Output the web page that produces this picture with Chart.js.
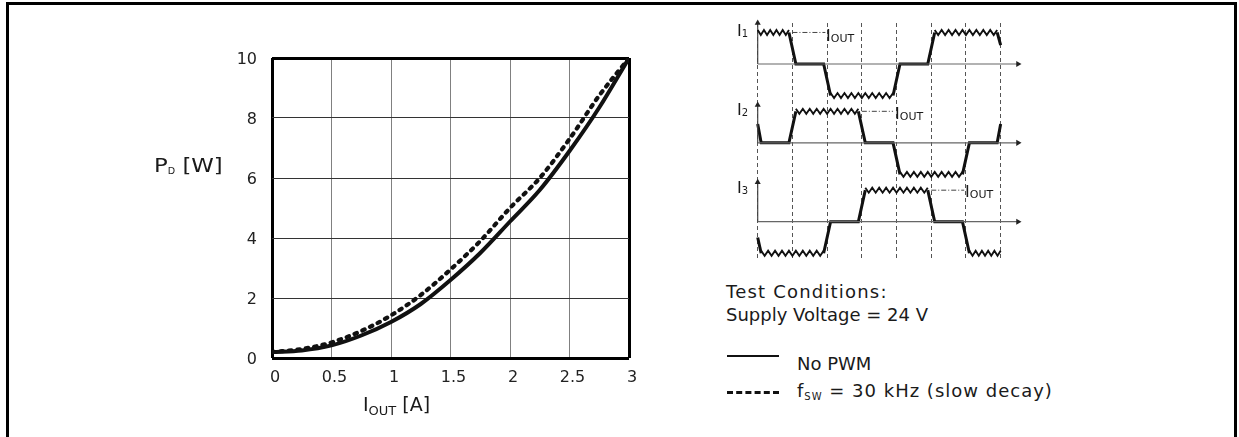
<!DOCTYPE html>
<html>
<head>
<meta charset="utf-8">
<script src="https://cdn.jsdelivr.net/npm/chart.js@4/dist/chart.umd.min.js"></script>
<style>
  html,body{margin:0;padding:0;background:#fff;}
  body{width:1239px;height:437px;position:relative;overflow:hidden;font-family:"DejaVu Sans",sans-serif;color:#1a1a1a;}
  .frame{position:absolute;left:6px;top:2px;width:1231px;height:520px;border:3px solid #000;box-sizing:border-box;}
  canvas{position:absolute;}
  .t{position:absolute;white-space:nowrap;line-height:1;transform-origin:0 50%;}
  .t sub{vertical-align:baseline;position:relative;}
  .sample{position:absolute;left:727px;width:52px;height:0;}
</style>
</head>
<body>
<div class="frame"></div>
<canvas id="pd" width="700" height="437" style="left:0;top:0"></canvas>
<canvas id="wave" width="340" height="270" style="left:700px;top:0"></canvas>

<div class="t" style="left:154px;top:156px;font-size:19px;transform:scaleX(1.2)">P<sub style="font-size:8px;top:2px">D</sub> [W]</div>
<div class="t" style="left:363px;top:395px;font-size:19px">I<sub style="font-size:13px;top:4px">OUT</sub> [A]</div>

<div class="t" style="left:737px;top:23px;font-size:16px">I<sub style="font-size:10px;top:1px">1</sub></div>
<div class="t" style="left:737px;top:102px;font-size:16px">I<sub style="font-size:10px;top:1px">2</sub></div>
<div class="t" style="left:737px;top:180px;font-size:16px">I<sub style="font-size:10px;top:1px">3</sub></div>
<div class="t" style="left:826px;top:28px;font-size:16px">I<sub style="font-size:11px;top:1px">OUT</sub></div>
<div class="t" style="left:895px;top:106px;font-size:16px">I<sub style="font-size:11px;top:1px">OUT</sub></div>
<div class="t" style="left:965px;top:184px;font-size:16px">I<sub style="font-size:11px;top:1px">OUT</sub></div>

<div class="t" style="left:726px;top:283px;font-size:18px;letter-spacing:1.2px">Test Conditions:</div>
<div class="t" style="left:726px;top:306px;font-size:18px">Supply Voltage = 24 V</div>
<div class="sample" style="top:355px;border-top:2px solid #111"></div>
<div class="t" style="left:797px;top:355px;font-size:18px">No PWM</div>
<div class="sample" style="top:391px;border-top:3px dashed #111"></div>
<div class="t" style="left:797px;top:382px;font-size:18px;letter-spacing:1px">f<sub style="font-size:10px;top:3px">SW</sub> = 30 kHz (slow decay)</div>

<script>
// --- power dissipation curves
const iOut = [0, 0.25, 0.5, 0.75, 1, 1.25, 1.5, 1.75, 2, 2.25, 2.5, 2.75, 3];
const pdNoPwm = [0.2, 0.25, 0.42, 0.75, 1.2, 1.8, 2.6, 3.5, 4.55, 5.6, 6.9, 8.35, 10];
const pdPwm30k = [0.2, 0.3, 0.52, 0.9, 1.42, 2.1, 2.95, 3.9, 5.0, 6.0, 7.3, 8.75, 10];
const xTicks = [0, 0.5, 1, 1.5, 2, 2.5, 3];
const yTicks = [0, 2, 4, 6, 8, 10];

// --- phase current waveforms (time in grid units, level -1..1)
const gridT = [0, 1, 2, 3, 4, 5, 6, 7];
const baselines = [5, 2.5, 0];
const axisTops = [6.3, 3.7, 1.25];
const i1T = [0, 0.9, 1.1, 1.9, 2.1, 3.9, 4.1, 4.9, 5.1, 6.9, 7.0];
const i1L = [1, 1, 0, 0, -1, -1, 0, 0, 1, 1, 0.6];
const i2T = [0, 0.1, 0.9, 1.1, 2.9, 3.1, 3.9, 4.1, 5.9, 6.1, 6.9, 7.0];
const i2L = [0.6, 0, 0, 1, 1, 0, 0, -1, -1, 0, 0, 0.6];
const i3T = [0, 0.1, 1.9, 2.1, 2.9, 3.1, 4.9, 5.1, 5.9, 6.1, 7.0];
const i3L = [-0.5, -1, -1, 0, 0, 1, 1, 0, 0, -1, -1];
const refStart = [1.0, 3.0, 5.0];
const refEnd = [1.95, 3.9, 5.95];

const $ = (id) => document.getElementById(id);
const pts = (xs, ys) => xs.map((x, i) => ({x, y: ys[i]}));
const edge = (c, lo, hi) => c.tick && (c.tick.value === lo || c.tick.value === hi);

new Chart($('pd'), {
  type: 'scatter',
  data: {datasets: [
    {data: pts(iOut, pdNoPwm), showLine: true, borderColor: '#111', borderWidth: 4, pointRadius: 0, cubicInterpolationMode: 'monotone'},
    {data: pts(iOut, pdPwm30k), showLine: true, borderColor: '#111', borderWidth: 4.2, borderDash: [2.5, 6], borderCapStyle: 'round', pointRadius: 0, cubicInterpolationMode: 'monotone'}
  ]},
  options: {
    responsive: false, animation: false, devicePixelRatio: 1,
    layout: {padding: {left: 222, right: 71, top: 58, bottom: 39}},
    plugins: {legend: {display: false}, tooltip: {enabled: false}},
    scales: {
      x: {
        type: 'linear', min: 0, max: 3,
        afterBuildTicks: s => { s.ticks = xTicks.map(v => ({value: v})); },
        afterFit: s => { s.height = 40; },
        ticks: {color: '#222', font: {family: 'DejaVu Sans', size: 16}, padding: 10, labelOffset: 3, callback: v => String(v)},
        grid: {drawTicks: false, color: c => edge(c, 0, 3) ? '#000' : '#808080', lineWidth: c => edge(c, 0, 3) ? 3 : 1},
        border: {display: false}
      },
      y: {
        type: 'linear', min: 0, max: 10,
        afterBuildTicks: s => { s.ticks = yTicks.map(v => ({value: v})); },
        afterFit: s => { s.width = 50; },
        ticks: {color: '#222', font: {family: 'DejaVu Sans', size: 16}, padding: 15, labelOffset: 2, callback: v => String(v)},
        grid: {drawTicks: false, color: c => edge(c, 0, 10) ? '#000' : '#333', lineWidth: c => edge(c, 0, 10) ? 3 : 1},
        border: {display: false}
      }
    }
  }
});

// ripple drawn on the flat top/bottom plateaus of each waveform
const ripplePlugin = {
  id: 'ripple',
  afterDatasetsDraw(chart) {
    const ctx = chart.ctx;
    chart.data.datasets.forEach((ds, di) => {
      if (!ds.ripple) return;
      const els = chart.getDatasetMeta(di).data;
      ctx.save();
      ctx.strokeStyle = '#111'; ctx.lineWidth = 1.9; ctx.lineJoin = 'miter';
      for (let i = 0; i < els.length - 1; i++) {
        const a = ds.data[i], b = ds.data[i + 1];
        if (a.lvl !== b.lvl || a.lvl === 0) continue;
        const x0 = els[i].x, x1 = els[i + 1].x, y = els[i].y;
        const n = Math.max(1, Math.round((x1 - x0) / 6.6));
        const step = (x1 - x0) / n;
        ctx.beginPath();
        ctx.moveTo(x0, y - 2.5);
        for (let k = 0; k < n; k++) {
          ctx.lineTo(x0 + step * (k + 0.5), y + 2.5);
          ctx.lineTo(x0 + step * (k + 1), y - 2.5);
        }
        ctx.stroke();
      }
      ctx.restore();
    });
  }
};

const waveSets = [];
[[i1T, i1L], [i2T, i2L], [i3T, i3L]].forEach(([ts, ls], k) => {
  const b = baselines[k];
  waveSets.push({
    data: [{x: 0, y: b}, {x: 7.5, y: b}], borderColor: '#666', borderWidth: 1.2,
    pointStyle: 'triangle', pointRotation: 90, pointRadius: [0, 3.5], pointBackgroundColor: '#222', pointBorderWidth: 0, clip: false
  });
  waveSets.push({
    data: [{x: 0, y: b}, {x: 0, y: axisTops[k]}], borderColor: '#444', borderWidth: 1.2,
    pointStyle: 'triangle', pointRadius: [0, 3.5], pointBackgroundColor: '#222', pointBorderWidth: 0, clip: false
  });
  waveSets.push({
    data: [{x: refStart[k], y: b + 1}, {x: refEnd[k], y: b + 1}], borderColor: '#444', borderWidth: 1,
    borderDash: [5, 2, 1, 2], pointRadius: 0, clip: false
  });
  waveSets.push({
    ripple: true,
    data: ts.map((t, i) => ({x: t, y: b + ls[i], lvl: ls[i]})),
    borderColor: '#111', borderWidth: 3, pointRadius: 0, clip: false,
    segment: {borderColor: c => (c.p0.raw.lvl === c.p1.raw.lvl && c.p0.raw.lvl !== 0) ? 'transparent' : '#111'}
  });
});

new Chart($('wave'), {
  type: 'scatter',
  data: {datasets: waveSets.map(d => ({showLine: true, ...d}))},
  options: {
    responsive: false, animation: false, devicePixelRatio: 1,
    layout: {padding: {left: 57.7, right: 22, top: 23, bottom: 12}},
    plugins: {legend: {display: false}, tooltip: {enabled: false}},
    scales: {
      x: {
        type: 'linear', min: 0, max: 7.5,
        afterBuildTicks: s => { s.ticks = gridT.map(v => ({value: v})); },
        afterFit: s => { s.height = 0; },
        ticks: {display: false},
        grid: {drawTicks: false, color: '#555', lineWidth: 1},
        border: {display: false, dash: [4, 3]}
      },
      y: {type: 'linear', min: -1.15, max: 6.3, display: false}
    }
  },
  plugins: [ripplePlugin]
});
</script>
</body>
</html>
